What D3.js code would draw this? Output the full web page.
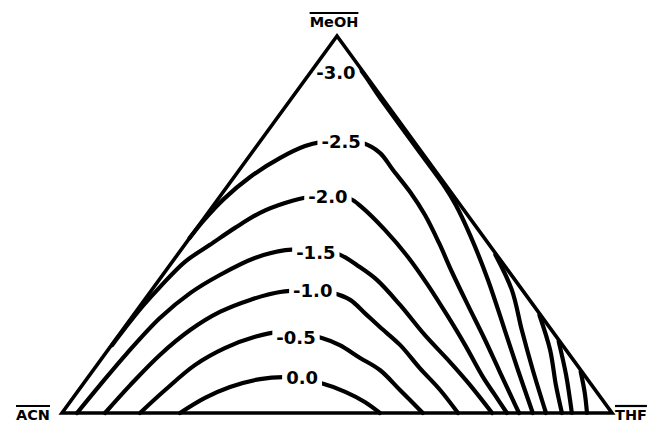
<!DOCTYPE html>
<html>
<head>
<meta charset="utf-8">
<script src="https://cdn.jsdelivr.net/npm/d3@7/dist/d3.min.js"></script>
<style>
  html, body { margin: 0; padding: 0; background: #fff; }
  svg { display: block; }
  text { font-family: "DejaVu Sans", sans-serif; font-weight: bold; fill: #000; }
</style>
</head>
<body>
<svg id="chart" width="662" height="423"></svg>
<script>
// ternary contours, each point = [MeOH %, THF %]  (ACN = 100 - both)
const c30 = [[90.7,0.3],[91.5,0.8],[91.2,4.0],[91.8,7.55],[91.6,8.1],[83,16.6],[70,29.6],[60,39.6],[55.2,44.0],[47.2,50.6],[35.3,59.8],[22.0,69.5],[11.4,77.2],[0,85.6]];
const c25 = [[46.4,0],[50.9,0.2],[56.8,1.05],[62.6,2.9],[67.6,5.8],[70.8,8.8],[71.9,11.3],[72.4,14.5],[71.6,18.9],[69.0,23.3],[64.5,27.9],[58.6,34.0],[52.5,39.75],[45.1,46.0],[37.4,52.2],[28.6,59.5],[19.9,66.8],[11.4,73.75],[3.4,80.3],[0,83.1]];
const c20 = [[18.0,0.1],[22.5,0.2],[28.4,0.5],[33.4,1.1],[40.1,2.3],[44.6,4.6],[49.1,6.9],[53.1,9.45],[55.7,12.7],[57.3,16.4],[57.3,19.7],[56.8,24.0],[54.6,27.2],[48.5,34.5],[41.4,42.2],[34.0,49.5],[26.0,57.0],[18.0,64.3],[9.5,71.8],[4.8,76.3],[0,80.9]];
const c15 = [[0,2.73],[7.4,3.2],[15.9,3.9],[25.2,5.2],[31.8,7.4],[36.6,10.4],[41.1,14.5],[43.2,19.0],[43.2,24.6],[42.2,29.1],[38.7,34.8],[35.3,39.6],[28.6,47.2],[20.7,55.6],[13.5,63.8],[7.4,70.5],[0,78.2]];
const c10 = [[0,7.82],[7.4,8.7],[15.4,10.1],[22.0,12.3],[26.8,15.3],[30.0,19.2],[32.1,23.6],[32.4,29.4],[31.8,33.4],[30.0,37.4],[26.5,41.8],[22.8,46.4],[18.0,52.5],[11.9,59.1],[6.1,65.7],[0,72.0]];
const c05 = [[0,14.18],[6.1,15.7],[12.7,17.8],[17.2,21.0],[20.2,25.0],[21.5,28.9],[21.2,31.9],[19.9,37.3],[18.0,41.5],[14.6,46.9],[11.4,52.1],[6.1,58.4],[0,65.6]];
const c00 = [[0,21.45],[4.0,24.0],[6.9,27.1],[9.0,31.5],[9.5,36.2],[9.0,39.1],[8.0,42.9],[5.6,48.7],[2.9,53.6],[0,57.8]];
// unlabelled lines branching off the MeOH-THF side
const c35 = [[42,57.8],[32.6,65.5],[22.0,72.6],[11.4,79.9],[0,88.0]];
const c40 = [[26,73.8],[16.7,80.4],[7.4,86.1],[0,90.9]];
const c45 = [[19,80.8],[10.1,86.6],[0,92.7]];
const c50 = [[11,88.8],[5.3,92.4],[0,95.45]];

// label text and where it sits [MeOH %, THF %]
const levelNames = ['-3.0', '-2.5', '-2.0', '-1.5', '-1.0', '-0.5', '0.0'];
const levelAt = [[90.2,4.7],[72.1,14.7],[57.3,19.7],[42.7,24.8],[32.4,29.4],[19.9,32.6],[9.3,39.0]];
const corners = ['MeOH', 'ACN', 'THF'];

const svg = d3.select('#chart');
const x = d3.scaleLinear().domain([0, 100]).range([62, 612]);
const y = d3.scaleLinear().domain([0, 100]).range([413, 36]);
const proj = ([m, t]) => [x(t + m / 2), y(m)];

const line = d3.line()
  .x(d => proj(d)[0])
  .y(d => proj(d)[1])
  .curve(d3.curveCatmullRom.alpha(0.5));

const all = [c30, c25, c20, c15, c10, c05, c00, c35, c40, c45, c50];
svg.append('g')
  .selectAll('path')
  .data(all)
  .join('path')
    .attr('d', line)
    .attr('fill', 'none')
    .attr('stroke', '#000')
    .attr('stroke-width', 4.2)
    .attr('stroke-linecap', 'round')
    .attr('stroke-linejoin', 'round');

// contour labels sit in a white gap
const lab = svg.append('g');
levelNames.forEach((s, i) => {
  const [px, py] = proj(levelAt[i]);
  const g = lab.append('g');
  const t = g.append('text')
    .attr('x', px).attr('y', py)
    .attr('text-anchor', 'middle')
    .attr('dominant-baseline', 'central')
    .attr('font-size', 18)
    .text(s);
  const b = t.node().getBBox();
  g.insert('rect', 'text')
    .attr('x', b.x - 4).attr('y', b.y + 1)
    .attr('width', b.width + 8).attr('height', b.height - 2)
    .attr('fill', '#fff');
});

// triangle
const verts = [[100, 0], [0, 0], [0, 100]];
svg.append('path')
  .attr('d', d3.line()(verts.map(proj)) + 'Z')
  .attr('fill', 'none')
  .attr('stroke', '#000')
  .attr('stroke-width', 3.6)
  .attr('stroke-linejoin', 'miter');

// corner names with overbar
const cpos = verts.map(proj);
const cornerLab = [
  { s: corners[0], x: cpos[0][0] - 3, y: cpos[0][1] - 9, anchor: 'middle' },
  { s: corners[1], x: cpos[1][0] - 12, y: cpos[1][1] + 7, anchor: 'end' },
  { s: corners[2], x: cpos[2][0] + 3, y: cpos[2][1] + 7, anchor: 'start' }
];
cornerLab.forEach(d => {
  const t = svg.append('text')
    .attr('x', d.x).attr('y', d.y)
    .attr('text-anchor', d.anchor)
    .attr('font-size', 14.5)
    .text(d.s);
  const b = t.node().getBBox();
  svg.append('line')
    .attr('x1', b.x).attr('x2', b.x + b.width)
    .attr('y1', d.y - 14).attr('y2', d.y - 14)
    .attr('stroke', '#000').attr('stroke-width', 2.2);
});
</script>
</body>
</html>
